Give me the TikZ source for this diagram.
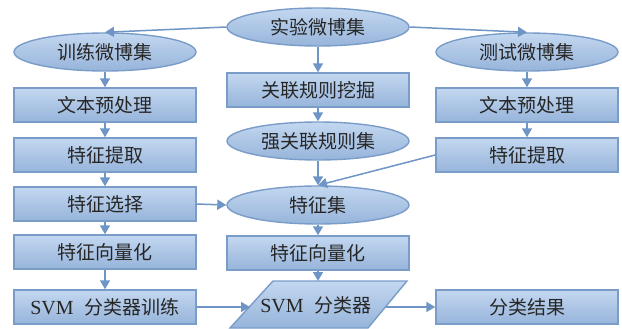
\documentclass[tikz,border=0pt]{standalone}
\usepackage{fontspec}
\setmainfont{Liberation Serif}
\newfontfamily\cjk{Noto Sans CJK SC}
\usetikzlibrary{shapes.geometric,arrows.meta}
\definecolor{ftop}{HTML}{C3D7F0}
\definecolor{fbot}{HTML}{96B4DA}
\definecolor{edge}{HTML}{7A9CC8}
\definecolor{arr}{HTML}{6E95C5}
\definecolor{txt}{HTML}{262626}
\tikzset{
  base/.style={draw=edge,line width=1.4pt,top color=ftop,bottom color=fbot,
    text=txt,font=\cjk\fontsize{19}{22}\selectfont,inner sep=0pt},
  box/.style={base,rectangle,minimum width=182pt,minimum height=34pt},
  oval/.style={base,ellipse,minimum width=182pt,minimum height=38pt},
  link/.style={draw=arr,line width=1.5pt,-{Triangle[length=9pt,width=10pt]}}
}
\begin{document}
\begin{tikzpicture}[x=1pt,y=-1pt]
\useasboundingbox (0,0) rectangle (622,329);
% top
\node[oval] (exp) at (318,27) {实验微博集};
\node[oval] (train) at (105,52) {训练微博集};
\node[oval] (test) at (527,52) {测试微博集};
% left column
\node[box] (pre1) at (105,105) {文本预处理};
\node[box] (fe1) at (105,155) {特征提取};
\node[box] (fs1) at (105,204) {特征选择};
\node[box] (vec1) at (105,252) {特征向量化};
\node[box] (svmt) at (105,307) {{\rmfamily\fontsize{20}{22}\selectfont SVM}\hspace{11pt}分类器训练};
% middle column
\node[box] (mine) at (318,90) {关联规则挖掘};
\node[oval] (rules) at (318,141) {强关联规则集};
\node[oval] (fset) at (318,205) {特征集};
\node[box] (vec2) at (318,253) {特征向量化};
\path[base] (230,328) -- (273,281) -- (407,281) -- (368,328) -- cycle;
\node[text=txt,font=\cjk\fontsize{19}{22}\selectfont] (svm) at (316,305) {{\rmfamily\fontsize{20}{22}\selectfont SVM}\hspace{11pt}分类器};
\coordinate (svmL) at (250,307);
\coordinate (svmR) at (386,307);
\coordinate (svmT) at (318,281);
% right column
\node[box] (pre2) at (527,105) {文本预处理};
\node[box] (fe2) at (527,155) {特征提取};
\node[box] (res) at (527,307) {分类结果};
% arrows
\draw[link] (exp.west) -- (train.north);
\draw[link] (exp.east) -- (test.north);
\draw[link] (train) -- (pre1);
\draw[link] (pre1) -- (fe1);
\draw[link] (fe1) -- (fs1);
\draw[link] (fs1) -- (vec1);
\draw[link] (vec1) -- (svmt);
\draw[link] (exp) -- (mine);
\draw[link] (mine) -- (rules);
\draw[link] (rules) -- (fset);
\draw[link] (fset) -- (vec2);
\draw[link] (vec2) -- (svmT);
\draw[link] (test) -- (pre2);
\draw[link] (pre2) -- (fe2);
\draw[link] (fe2.west) -- (fset.north);
\draw[link] (fs1.east) -- (fset.west);
\draw[link] (svmt.east) -- (svmL);
\draw[link] (svmR) -- (res.west);
\end{tikzpicture}
\end{document}
